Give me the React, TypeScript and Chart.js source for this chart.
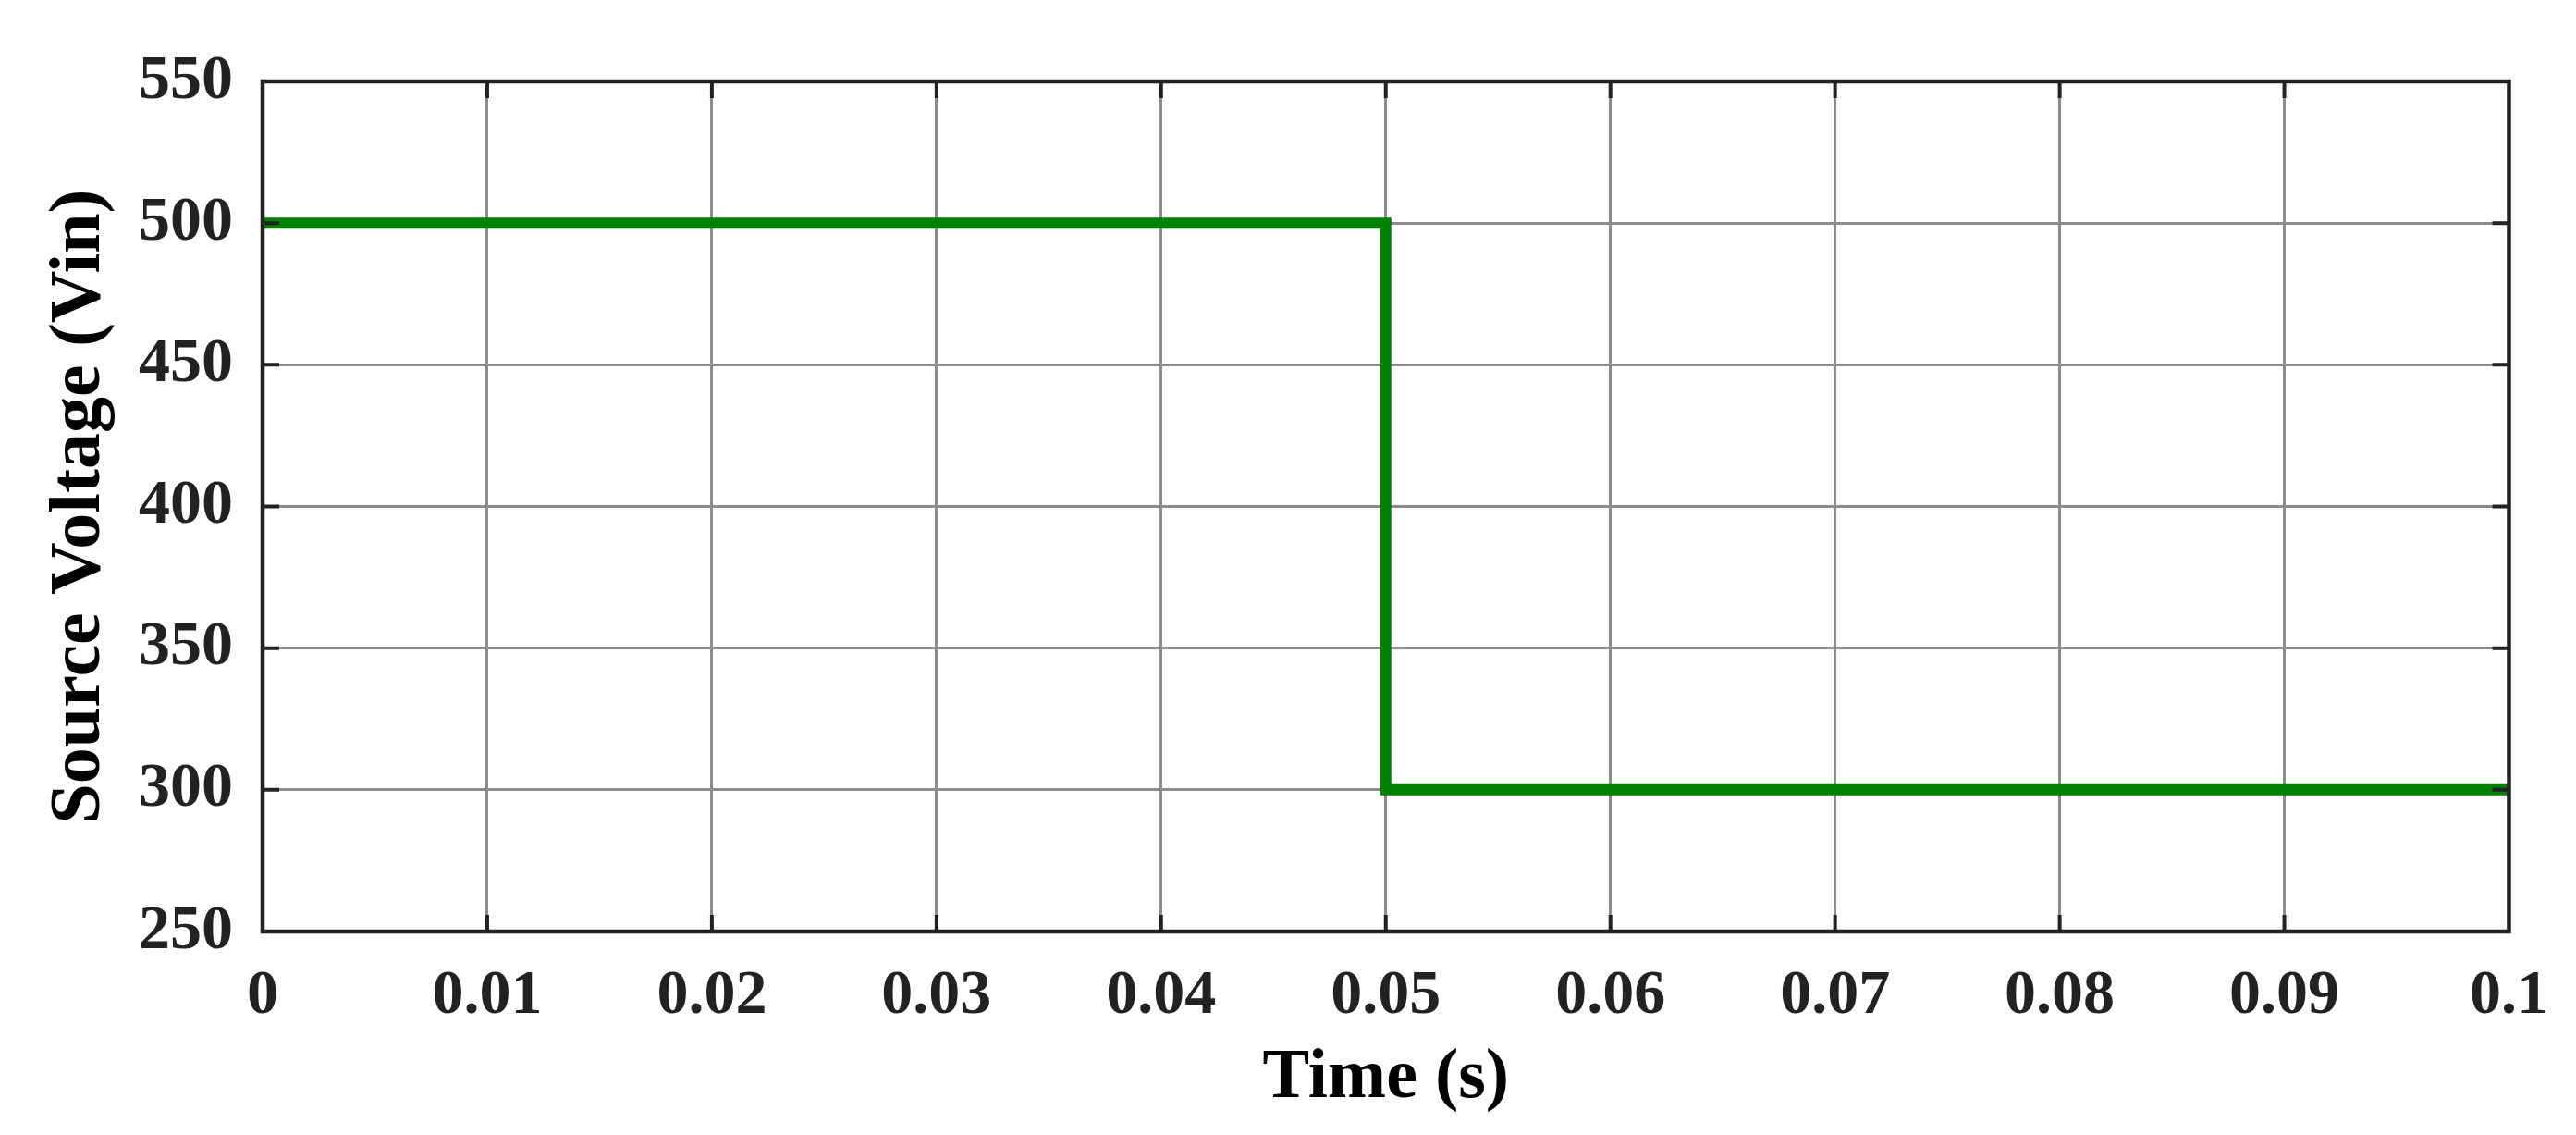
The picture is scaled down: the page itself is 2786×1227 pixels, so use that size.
import React, { useEffect, useRef } from "react";
import { Chart, registerables } from "chart.js";

Chart.register(...registerables);

const timeValues = [0, 0.05, 0.05, 0.1];
const voltageValues = [500, 500, 300, 300];
const xTicks = [0, 0.01, 0.02, 0.03, 0.04, 0.05, 0.06, 0.07, 0.08, 0.09, 0.1];
const xTickLabels = ["0", "0.01", "0.02", "0.03", "0.04", "0.05", "0.06", "0.07", "0.08", "0.09", "0.1"];
const yTicks = [250, 300, 350, 400, 450, 500, 550];
const yTickLabels = ["250", "300", "350", "400", "450", "500", "550"];
const xTitle = "Time (s)";
const yTitle = "Source Voltage (Vin)";

const FONT = '"Liberation Serif", "Times New Roman", serif';

const framePlugin = {
  id: "frame",
  afterDatasetsDraw(chart: any) {
    const { ctx, chartArea, scales } = chart;
    const { left, right, top, bottom } = chartArea;
    const x = scales.x;
    const y = scales.y;
    const len = 18;
    ctx.save();
    ctx.strokeStyle = "#222";
    ctx.lineWidth = 4;
    ctx.beginPath();
    xTicks.forEach((v, i) => {
      if (i === 0 || i === xTicks.length - 1) return;
      const px = x.getPixelForValue(v);
      ctx.moveTo(px, bottom);
      ctx.lineTo(px, bottom - len);
      ctx.moveTo(px, top);
      ctx.lineTo(px, top + len);
    });
    yTicks.forEach((v, i) => {
      if (i === 0 || i === yTicks.length - 1) return;
      const py = y.getPixelForValue(v);
      ctx.moveTo(left, py);
      ctx.lineTo(left + len, py);
      ctx.moveTo(right, py);
      ctx.lineTo(right - len, py);
    });
    ctx.stroke();
    ctx.lineWidth = 4.5;
    ctx.strokeRect(left, top, right - left, bottom - top);
    ctx.restore();
  },
};

export default function App() {
  const canvasRef = useRef<HTMLCanvasElement | null>(null);

  useEffect(() => {
    const canvas = canvasRef.current;
    if (!canvas) return;
    const chart = new Chart(canvas, {
      type: "line",
      data: {
        datasets: [
          {
            data: timeValues.map((t, i) => ({ x: t, y: voltageValues[i] })),
            borderColor: "#008000",
            borderWidth: 12,
            pointRadius: 0,
            tension: 0,
            fill: false,
            borderJoinStyle: "miter",
            borderCapStyle: "butt",
          },
        ],
      },
      options: {
        animation: false,
        responsive: false,
        devicePixelRatio: 1,
        layout: { padding: { top: 88, right: 67, left: 0, bottom: 0 } },
        plugins: { legend: { display: false }, tooltip: { enabled: false } },
        scales: {
          x: {
            type: "linear",
            min: 0,
            max: 0.1,
            afterBuildTicks: (scale: any) => {
              scale.ticks = xTicks.map((v) => ({ value: v }));
            },
            afterFit: (scale: any) => {
              scale.height = 220;
            },
            grid: { color: "#8c8c8c", lineWidth: 3, drawTicks: false },
            border: { display: false },
            ticks: {
              padding: 30,
              maxRotation: 0,
              autoSkip: false,
              color: "#222",
              font: { family: FONT, size: 68, weight: "bold" },
              callback: (_v: any, i: number) => xTickLabels[i],
            },
            title: {
              display: true,
              text: xTitle,
              color: "#000",
              padding: { top: 0, bottom: 15 },
              font: { family: FONT, size: 76, weight: "bold" },
            },
          },
          y: {
            type: "linear",
            min: 250,
            max: 550,
            afterBuildTicks: (scale: any) => {
              scale.ticks = yTicks.map((v) => ({ value: v }));
            },
            afterFit: (scale: any) => {
              scale.width = 284;
            },
            grid: { color: "#8c8c8c", lineWidth: 3, drawTicks: false },
            border: { display: false },
            ticks: {
              padding: 32,
              autoSkip: false,
              color: "#222",
              font: { family: FONT, size: 68, weight: "bold" },
              callback: (_v: any, i: number) => yTickLabels[i],
            },
            title: {
              display: true,
              text: yTitle,
              color: "#000",
              padding: { top: 40, bottom: 0 },
              font: { family: FONT, size: 78, weight: "bold" },
            },
          },
        },
      },
      plugins: [framePlugin],
    } as any);
    return () => chart.destroy();
  }, []);

  return (
    <div style={{ position: "absolute", left: 0, top: 0, width: 2786, height: 1227, background: "#fff" }}>
      <canvas ref={canvasRef} width={2786} height={1227} style={{ display: "block" }} />
    </div>
  );
}
